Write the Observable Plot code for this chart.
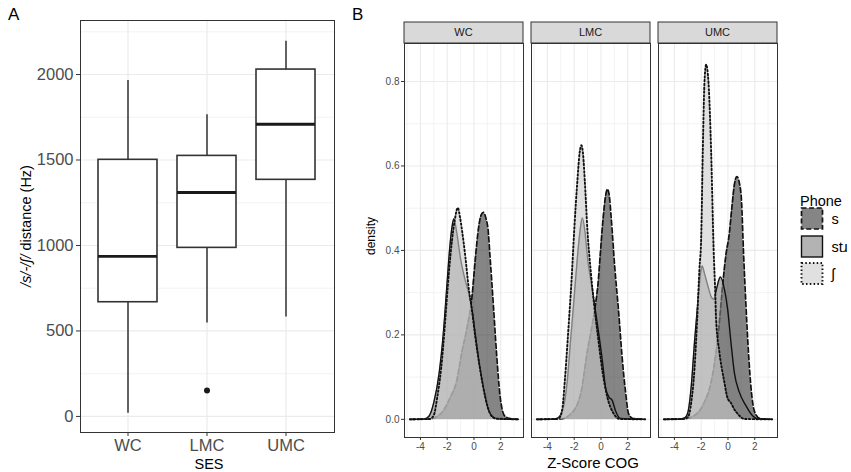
<!DOCTYPE html>
<html>
<head>
<meta charset="utf-8">
<script src="https://cdn.jsdelivr.net/npm/d3@7"></script>
<script src="https://cdn.jsdelivr.net/npm/@observablehq/plot@0.6"></script>
<style>
  body { margin: 0; background: #fff; }
  #fig { position: relative; width: 851px; height: 472px; overflow: hidden; font-family: "Liberation Sans", Arial, sans-serif; }
  #fig > * { position: absolute; top: 0; }
</style>
</head>
<body>
<div id="fig"></div>
<script>
// ---------- Panel A: /s/-/ʃ/ distance by SES (box summaries) ----------
const ses = ["WC", "LMC", "UMC"];
const whiskerLow  = [18, 546, 581];
const boxQ1       = [668, 986, 1384];
const boxMedian   = [936, 1310, 1709];
const boxQ3       = [1501, 1524, 2029];
const whiskerHigh = [1965, 1764, 2195];
const outlierSes   = ["LMC"];
const outlierValue = [152];
const distanceTicks = [0, 500, 1000, 1500, 2000];
const distanceMinor = [250, 750, 1250, 1750, 2250];

// ---------- Panel B: density of Z-scored COG per phone, faceted by SES ----------
const phones = ["s", "stɹ", "ʃ"];
const zTicks = [-4, -2, 0, 2];
const zMinor = [-5, -3, -1, 1, 3];
const densityTicks = [0, 0.2, 0.4, 0.6, 0.8];
const densityMinor = [0.1, 0.3, 0.5, 0.7];

const wcS = [[-4.79,0],[-3.4,0.001],[-2.8,0.006],[-2.3,0.02],[-1.8,0.05],[-1.3,0.09],[-0.9,0.16],[-0.5,0.22],[-0.15,0.29],[0.1,0.38],[0.35,0.455],[0.55,0.485],[0.71,0.49],[0.9,0.475],[1.05,0.45],[1.2,0.385],[1.45,0.27],[1.7,0.15],[1.95,0.055],[2.3,0.008],[2.8,0.001],[3.3,0]];
const wcStr = [[-4.79,0],[-3.7,0.001],[-3.35,0.008],[-3.0,0.04],[-2.6,0.11],[-2.3,0.2],[-2.05,0.305],[-1.8,0.41],[-1.62,0.46],[-1.5,0.475],[-1.3,0.445],[-1.0,0.38],[-0.7,0.335],[-0.4,0.3],[-0.1,0.25],[0.1,0.2],[0.4,0.13],[0.7,0.075],[1.0,0.03],[1.4,0.006],[1.8,0.001],[3.3,0]];
const wcSh = [[-4.79,0],[-3.3,0.001],[-3.0,0.01],[-2.74,0.053],[-2.37,0.147],[-2.13,0.242],[-1.88,0.345],[-1.64,0.424],[-1.44,0.471],[-1.21,0.501],[-1.05,0.48],[-0.89,0.447],[-0.64,0.384],[-0.4,0.313],[-0.15,0.258],[0.1,0.195],[0.47,0.116],[0.84,0.053],[1.21,0.013],[1.6,0.002],[3.3,0]];

const lmcS = [[-4.79,0],[-3.0,0.001],[-2.25,0.013],[-1.51,0.061],[-1.01,0.163],[-0.64,0.226],[-0.4,0.274],[-0.22,0.321],[-0.03,0.4],[0.17,0.479],[0.35,0.53],[0.48,0.545],[0.62,0.53],[0.76,0.479],[1.01,0.368],[1.33,0.25],[1.58,0.147],[1.82,0.069],[2.07,0.013],[2.4,0.002],[3.3,0]];
const lmcStr = [[-4.79,0],[-3.5,0.001],[-3.24,0.003],[-2.87,0.021],[-2.54,0.084],[-2.25,0.195],[-2.0,0.29],[-1.76,0.384],[-1.55,0.45],[-1.39,0.477],[-1.2,0.445],[-1.01,0.384],[-0.64,0.305],[-0.27,0.226],[0.1,0.14],[0.34,0.076],[0.59,0.053],[0.84,0.045],[1.08,0.021],[1.45,0.002],[3.3,0]];
const lmcSh = [[-4.79,0],[-3.3,0.001],[-3.1,0.004],[-2.87,0.029],[-2.7,0.092],[-2.44,0.211],[-2.2,0.329],[-2.0,0.447],[-1.76,0.566],[-1.6,0.63],[-1.46,0.649],[-1.33,0.625],[-1.21,0.566],[-1.01,0.447],[-0.77,0.353],[-0.52,0.274],[-0.22,0.195],[0.1,0.116],[0.47,0.053],[0.96,0.013],[1.4,0.001],[3.3,0]];

const umcS = [[-4.79,0],[-3.2,0.002],[-2.5,0.009],[-1.76,0.041],[-1.26,0.088],[-0.89,0.159],[-0.64,0.23],[-0.4,0.317],[-0.15,0.39],[0.1,0.44],[0.27,0.495],[0.5,0.56],[0.67,0.575],[0.85,0.56],[1.01,0.518],[1.16,0.396],[1.33,0.278],[1.53,0.159],[1.75,0.065],[2.0,0.017],[2.4,0.002],[3.3,0]];
const umcStr = [[-4.79,0],[-3.5,0.001],[-3.2,0.004],[-2.99,0.017],[-2.74,0.08],[-2.5,0.183],[-2.25,0.278],[-2.05,0.345],[-1.93,0.363],[-1.75,0.345],[-1.51,0.317],[-1.25,0.29],[-1.07,0.284],[-0.85,0.31],[-0.57,0.337],[-0.27,0.309],[-0.03,0.262],[0.22,0.183],[0.47,0.112],[0.84,0.065],[1.33,0.033],[1.82,0.009],[2.2,0.001],[3.3,0]];
const umcSh = [[-4.79,0],[-3.3,0.001],[-2.99,0.005],[-2.74,0.041],[-2.5,0.12],[-2.3,0.238],[-2.13,0.357],[-2.0,0.43],[-1.88,0.637],[-1.76,0.795],[-1.63,0.84],[-1.45,0.795],[-1.26,0.637],[-1.07,0.4],[-0.95,0.3],[-0.89,0.238],[-0.64,0.159],[-0.27,0.088],[-0.03,0.05],[0.2,0.04],[0.45,0.025],[0.84,0.009],[1.2,0.001],[3.3,0]];

const densityCurves = [
  {ses: "WC",  phone: "s",   points: wcS},
  {ses: "WC",  phone: "stɹ", points: wcStr},
  {ses: "WC",  phone: "ʃ",   points: wcSh},
  {ses: "LMC", phone: "s",   points: lmcS},
  {ses: "LMC", phone: "stɹ", points: lmcStr},
  {ses: "LMC", phone: "ʃ",   points: lmcSh},
  {ses: "UMC", phone: "s",   points: umcS},
  {ses: "UMC", phone: "stɹ", points: umcStr},
  {ses: "UMC", phone: "ʃ",   points: umcSh}
];

// Grey fill scale with alpha, and the outline style for each phone
const phoneFill = {"s": "#333333", "stɹ": "#808080", "ʃ": "#cccccc"};
const fillAlpha = 0.6;
const phoneDash = {"s": "5,2.6", "stɹ": null, "ʃ": "1.5,2.3"};
const phoneWidth = {"s": 1.7, "stɹ": 1.4, "ʃ": 1.9};

const FONT = "'Liberation Sans', Arial, sans-serif";
const GRID = "#ebebeb";
const INK = "#333333";
const fig = document.getElementById("fig");

// ---------- Panel A ----------
const boxes = ses.map((s, i) => ({
  ses: s, lo: whiskerLow[i], q1: boxQ1[i], med: boxMedian[i], q3: boxQ3[i], hi: whiskerHigh[i]
}));
const outliers = outlierSes.map((s, i) => ({ses: s, value: outlierValue[i]}));

const chartA = Plot.plot({
  width: 340, height: 472,
  marginLeft: 80, marginRight: 6, marginTop: 20, marginBottom: 40,
  style: {fontFamily: FONT, fontSize: "16.5px", background: "transparent"},
  x: {type: "band", domain: ses, paddingInner: 0.25, paddingOuter: 0.225, axis: null, label: null},
  y: {domain: [-94, 2316], axis: null, label: null},
  marks: [
    Plot.gridY({ticks: distanceMinor, stroke: GRID, strokeOpacity: 1, strokeWidth: 0.6}),
    Plot.gridY({ticks: distanceTicks, stroke: GRID, strokeOpacity: 1, strokeWidth: 1.2}),
    Plot.gridX({ticks: ses, stroke: GRID, strokeOpacity: 1, strokeWidth: 1.2}),
    Plot.ruleX(boxes, {x: "ses", y1: "lo", y2: "hi", stroke: INK, strokeWidth: 1.5}),
    Plot.barY(boxes, {x: "ses", y1: "q1", y2: "q3", fill: "white", stroke: INK, strokeWidth: 1.6}),
    Plot.tickY(boxes, {x: "ses", y: "med", stroke: "#1a1a1a", strokeWidth: 2.8}),
    Plot.dot(outliers, {x: "ses", y: "value", r: 3, fill: "#1a1a1a", stroke: null}),
    Plot.frame({stroke: INK, strokeWidth: 1}),
    Plot.axisY({ticks: distanceTicks, tickFormat: d => String(d), tickSize: 4, tickPadding: 3,
                stroke: INK, fill: "#4d4d4d", label: null}),
    Plot.axisX({tickSize: 4, tickPadding: 3, stroke: INK, fill: "#4d4d4d", label: null})
  ]
});
chartA.style.left = "0px";
fig.appendChild(chartA);

// ---------- Panel B ----------
const densityRows = densityCurves.flatMap(c =>
  c.points.map(([z, d]) => ({ses: c.ses, phone: c.phone, z, density: d}))
);

const densityMarks = phones.flatMap(p => [
  Plot.areaY(densityRows, {filter: d => d.phone === p, fx: "ses", x: "z", y: "density",
    fill: phoneFill[p], fillOpacity: fillAlpha, curve: "monotone-x"}),
  Plot.lineY(densityRows, {filter: d => d.phone === p, fx: "ses", x: "z", y: "density",
    stroke: "#111", strokeWidth: phoneWidth[p], strokeDasharray: phoneDash[p], curve: "monotone-x"})
]);

const chartB = Plot.plot({
  width: 511, height: 472,
  marginLeft: 64, marginRight: 73, marginTop: 43, marginBottom: 35,
  style: {fontFamily: FONT, fontSize: "10px", background: "transparent"},
  fx: {domain: ses, paddingInner: 0.062, paddingOuter: 0, axis: null, label: null},
  x: {domain: [-5.19, 3.70], axis: null, label: null},
  y: {domain: [-0.043, 0.89], axis: null, label: null},
  marks: [
    Plot.gridX({ticks: zMinor, stroke: GRID, strokeOpacity: 1, strokeWidth: 0.6}),
    Plot.gridX({ticks: zTicks, stroke: GRID, strokeOpacity: 1, strokeWidth: 1.1}),
    Plot.gridY({ticks: densityMinor, stroke: GRID, strokeOpacity: 1, strokeWidth: 0.6}),
    Plot.gridY({ticks: densityTicks, stroke: GRID, strokeOpacity: 1, strokeWidth: 1.1}),
    ...densityMarks,
    Plot.frame({stroke: INK, strokeWidth: 1}),
    Plot.axisY({ticks: densityTicks, tickFormat: d => d.toFixed(1), tickSize: 3, tickPadding: 2,
                stroke: INK, fill: "#4d4d4d", label: null}),
    Plot.axisX({ticks: zTicks, tickFormat: d => String(d), tickSize: 3, tickPadding: 2,
                stroke: INK, fill: "#4d4d4d", label: null})
  ]
});
chartB.style.left = "340px";
fig.appendChild(chartB);

// Facet strips above each panel, positioned with the fx scale
{
  const fxs = chartB.scale("fx");
  const band = d3.scaleBand().domain(fxs.domain).range(fxs.range)
    .paddingInner(fxs.paddingInner ?? 0.062).paddingOuter(fxs.paddingOuter ?? 0).align(fxs.align ?? 0.5);
  const xOf = fxs.apply ? (d => fxs.apply(d)) : (d => band(d));
  const bw = fxs.bandwidth ?? band.bandwidth();
  const svg = d3.select(chartB.tagName.toLowerCase() === "svg" ? chartB : chartB.querySelector("svg"));
  const strips = svg.append("g").attr("class", "strips");
  const g = strips.selectAll("g").data(ses).join("g")
    .attr("transform", d => `translate(${xOf(d)},22)`);
  g.append("rect").attr("width", bw).attr("height", 21)
    .attr("fill", "#d9d9d9").attr("stroke", INK).attr("stroke-width", 1);
  g.append("text").attr("x", bw / 2).attr("y", 10.5).attr("dy", "0.36em")
    .attr("text-anchor", "middle").attr("fill", "#1a1a1a")
    .style("font-size", "11px").style("font-family", FONT).text(d => d);
}

// ---------- Titles, panel tags and legend ----------
const over = d3.select(fig).append("svg")
  .attr("width", 851).attr("height", 472)
  .style("left", "0px").style("pointer-events", "none")
  .style("font-family", FONT);

over.append("text").attr("x", 8).attr("y", 20).style("font-size", "17px").attr("fill", "#000").text("A");
over.append("text").attr("x", 352).attr("y", 20).style("font-size", "17px").attr("fill", "#000").text("B");

const yTitleA = over.append("text")
  .attr("transform", "translate(30.5,226) rotate(-90)")
  .attr("text-anchor", "middle").style("font-size", "14.5px").attr("fill", "#000");
yTitleA.append("tspan").style("font-style", "italic").text("/s/-/ʃ/");
yTitleA.append("tspan").text(" distance (Hz)");

over.append("text").attr("x", 209).attr("y", 469).attr("text-anchor", "middle")
  .style("font-size", "14.5px").attr("fill", "#000").text("SES");

over.append("text").attr("transform", "translate(375,236) rotate(-90)")
  .attr("text-anchor", "middle").style("font-size", "12px").attr("fill", "#000").text("density");

over.append("text").attr("x", 593).attr("y", 468).attr("text-anchor", "middle")
  .style("font-size", "15px").attr("fill", "#000").text("Z-Score COG");

// Legend: Phone
const legend = over.append("g").attr("transform", "translate(800,0)");
legend.append("text").attr("x", 0).attr("y", 206).style("font-size", "14.5px").attr("fill", "#000").text("Phone");
const keyTop = [208, 236, 263];
const key = legend.selectAll("g.key").data(phones).join("g").attr("class", "key")
  .attr("transform", (d, i) => `translate(1.5,${keyTop[i]})`);
key.append("rect").attr("width", 21).attr("height", 21)
  .attr("fill", d => phoneFill[d]).attr("fill-opacity", fillAlpha)
  .attr("stroke", "#111").attr("stroke-width", d => phoneWidth[d])
  .attr("stroke-dasharray", d => phoneDash[d]);
key.append("text").attr("x", 30).attr("y", 15.5).style("font-size", "14.5px").attr("fill", "#000").text(d => d);
</script>
</body>
</html>
